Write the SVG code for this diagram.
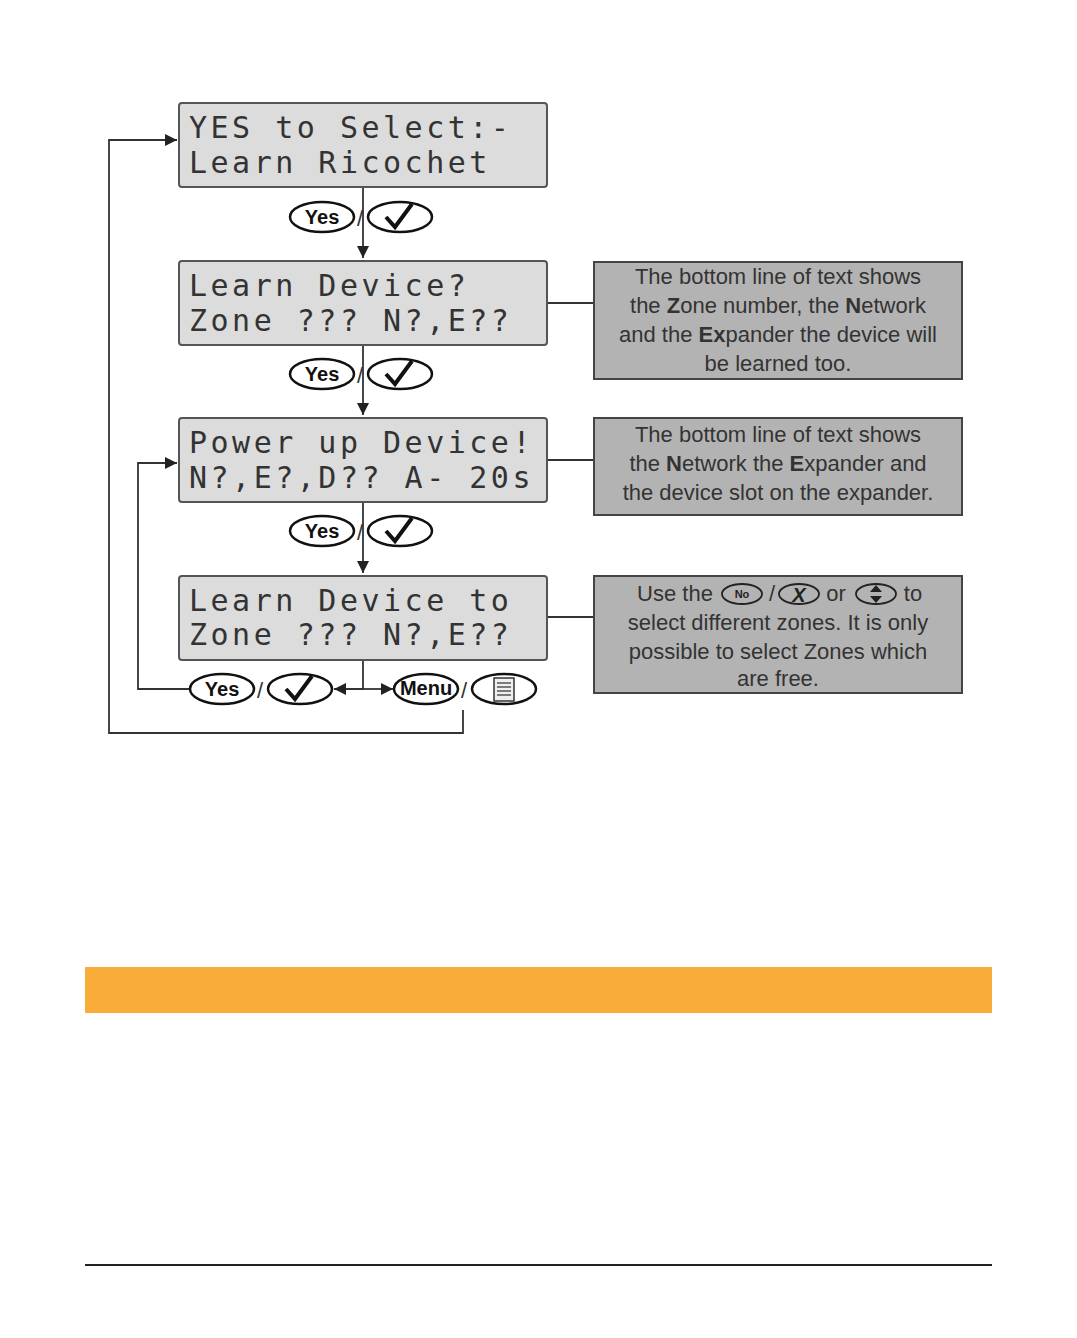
<svg xmlns="http://www.w3.org/2000/svg" width="1077" height="1338" viewBox="0 0 1077 1338">
<style>
.lcd{fill:#dcdcdc;stroke:#555;stroke-width:2}
.lt{font-family:"DejaVu Sans Mono",monospace;font-size:30px;letter-spacing:3.5px;fill:#333}
.note{fill:#b3b3b3;stroke:#444;stroke-width:2}
.nt{font-family:"Liberation Sans",Arial,sans-serif;font-size:22px;fill:#333;text-anchor:middle}
.btn{fill:#fff;stroke:#111;stroke-width:2.5}
.bt{font-family:"Liberation Sans",Arial,sans-serif;font-weight:bold;font-size:20px;fill:#111;text-anchor:middle}
.ln{fill:none;stroke:#333;stroke-width:1.8}
.sl{font-family:"Liberation Sans",Arial,sans-serif;font-size:22px;fill:#333}
</style>
<defs>
<marker id="a" viewBox="0 0 10 10" refX="10" refY="5" markerWidth="13" markerHeight="12" markerUnits="userSpaceOnUse" orient="auto"><path d="M0,0L10,5L0,10z" fill="#222"/></marker>
<g id="yc">
<ellipse class="btn" cx="0" cy="0" rx="32" ry="15"/><text class="bt" x="0" y="7">Yes</text>
<text class="sl" x="35" y="9">/</text>
<ellipse class="btn" cx="78" cy="0" rx="32" ry="15"/>
<path d="M64,0 L73,10 L90,-13" fill="none" stroke="#111" stroke-width="4"/>
</g>
</defs>
<g id="connectors">
<path class="ln" d="M363,187V258" marker-end="url(#a)"/>
<path class="ln" d="M363,345V415" marker-end="url(#a)"/>
<path class="ln" d="M363,502V573" marker-end="url(#a)"/>
<path class="ln" d="M363,660V689H334" marker-end="url(#a)"/>
<path class="ln" d="M363,689H393" marker-end="url(#a)"/>
<path class="ln" d="M547,303H594M547,460H594M547,617H594"/>
<path class="ln" d="M190,689H138V463H177" marker-end="url(#a)"/>
<path class="ln" d="M463,710V733H109V140H177" marker-end="url(#a)"/>
</g>
<g id="n1"><rect class="lcd" x="179" y="103" width="368" height="84" rx="3"/>
<text class="lt" x="189" y="138">YES to Select:-</text><text class="lt" x="189" y="173">Learn Ricochet</text></g>
<g id="b1"><use href="#yc" x="322" y="217"/></g>
<g id="n2"><rect class="lcd" x="179" y="261" width="368" height="84" rx="3"/>
<text class="lt" x="189" y="296">Learn Device?</text><text class="lt" x="189" y="331">Zone ??? N?,E??</text></g>
<g id="b2"><use href="#yc" x="322" y="374"/></g>
<g id="n3"><rect class="lcd" x="179" y="418" width="368" height="84" rx="3"/>
<text class="lt" x="189" y="453">Power up Device!</text><text class="lt" x="189" y="488">N?,E?,D?? A- 20s</text></g>
<g id="b3"><use href="#yc" x="322" y="531"/></g>
<g id="n4"><rect class="lcd" x="179" y="576" width="368" height="84" rx="3"/>
<text class="lt" x="189" y="611">Learn Device to</text><text class="lt" x="189" y="645">Zone ??? N?,E??</text></g>
<g id="b4"><use href="#yc" x="222" y="689"/>
<ellipse class="btn" cx="426" cy="689" rx="32" ry="15"/><text class="bt" x="426" y="695" font-size="16">Menu</text>
<text class="sl" x="461" y="698">/</text>
<ellipse class="btn" cx="504" cy="689" rx="32" ry="15"/>
<rect x="494" y="678" width="20" height="23" fill="#eee" stroke="#333" stroke-width="1.5"/>
<path d="M497,683h14M497,687h14M497,691h14M497,695h14" stroke="#555" stroke-width="1.3"/></g>
<g id="note1"><rect class="note" x="594" y="262" width="368" height="117"/>
<text class="nt" x="778" y="284">The bottom line of text shows</text>
<text class="nt" x="778" y="313">the <tspan font-weight="bold">Z</tspan>one number, the <tspan font-weight="bold">N</tspan>etwork</text>
<text class="nt" x="778" y="342">and the <tspan font-weight="bold">Ex</tspan>pander the device will</text>
<text class="nt" x="778" y="371">be learned too.</text></g>
<g id="note2"><rect class="note" x="594" y="418" width="368" height="97"/>
<text class="nt" x="778" y="442">The bottom line of text shows</text>
<text class="nt" x="778" y="471">the <tspan font-weight="bold">N</tspan>etwork the <tspan font-weight="bold">E</tspan>xpander and</text>
<text class="nt" x="778" y="500">the device slot on the expander.</text></g>
<g id="note3"><rect class="note" x="594" y="576" width="368" height="117"/>
<text class="nt" x="675" y="601">Use the</text>
<ellipse cx="742" cy="594" rx="20" ry="10" fill="none" stroke="#222" stroke-width="1.8"/>
<text x="742" y="598" font-family="Liberation Sans,Arial,sans-serif" font-size="11" font-weight="bold" text-anchor="middle" fill="#222">No</text>
<text class="nt" x="772" y="601">/</text>
<ellipse cx="799" cy="594" rx="20" ry="10" fill="none" stroke="#222" stroke-width="1.8"/>
<text x="799" y="602" font-family="Liberation Sans,Arial,sans-serif" font-size="20" font-style="italic" font-weight="bold" text-anchor="middle" fill="#222">X</text>
<text class="nt" x="836" y="601">or</text>
<ellipse cx="876" cy="594" rx="20" ry="10" fill="none" stroke="#222" stroke-width="1.8"/>
<path d="M870,592L876,585L882,592zM870,596L876,603L882,596z" fill="#222"/>
<text class="nt" x="913" y="601">to</text>
<text class="nt" x="778" y="630">select different zones. It is only</text>
<text class="nt" x="778" y="659">possible to select Zones which</text>
<text class="nt" x="778" y="686">are free.</text></g>
<rect x="85" y="967" width="907" height="46" fill="#f8ac3a"/>
<path d="M85,1265H992" stroke="#222" stroke-width="2"/>
</svg>
